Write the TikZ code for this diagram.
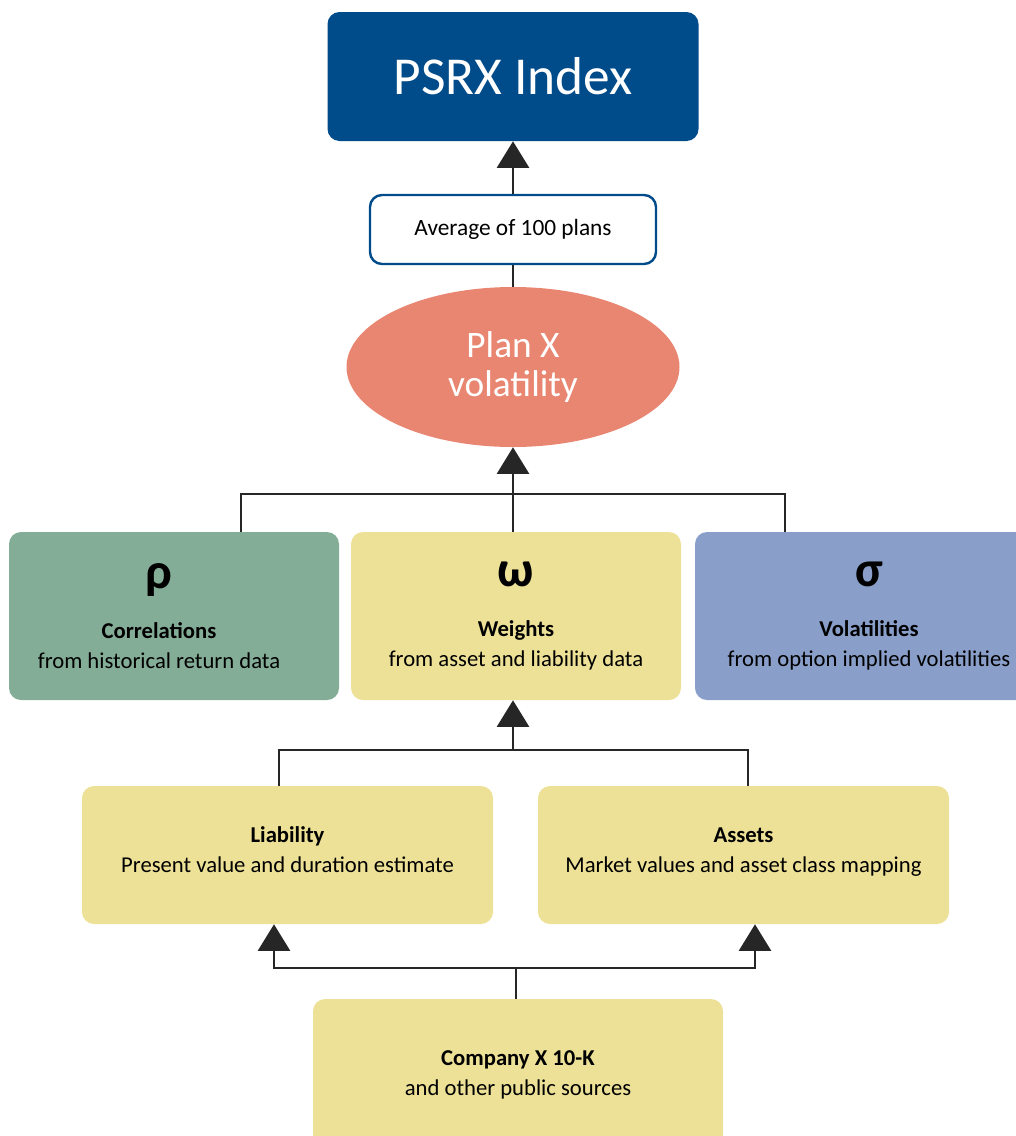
\documentclass[tikz,border=0pt]{standalone}
\usepackage{fontspec}
\setmainfont{Carlito}
\usetikzlibrary{arrows.meta,shapes.geometric}
\definecolor{indexblue}{RGB}{0,76,138}
\definecolor{planred}{RGB}{233,134,113}
\definecolor{corrgreen}{RGB}{132,173,152}
\definecolor{wgtyellow}{RGB}{237,225,151}
\definecolor{volblue}{RGB}{137,159,201}
\newcommand{\greekmark}[1]{{\fontsize{38}{38}\selectfont\bfseries #1}\\[15pt]}

\begin{document}
\begin{tikzpicture}[x=0.75pt,y=0.75pt,yscale=-1,xscale=1,
	card/.style={rounded corners=9pt, inner sep=0pt, align=center, text=black, font=\fontsize{17}{22.5}\selectfont},
	rowcard/.style={card, minimum width=247.5pt, minimum height=126pt},
	lowcard/.style={card, fill=wgtyellow, minimum width=308.25pt, minimum height=103.5pt},
	link/.style={line width=2.2pt, draw=black!85},
	feed/.style={link, -{Triangle[width=24pt,length=20pt]}}
	]
	\useasboundingbox (0,0) rectangle (1016,1136);
	% top of the chain
	\node [card, fill=indexblue, text=white, minimum width=278.25pt, minimum height=96.75pt, font=\fontsize{40}{44}\selectfont] (psrx) at (513,76.5) {PSRX Index};
	\node [card, fill=white, draw=indexblue, line width=1.8pt, minimum width=214.5pt, minimum height=51.75pt, font=\fontsize{17.5}{22}\selectfont] (avg) at (513,229.5) {Average of 100 plans};
	\node [ellipse, fill=planred, text=white, inner sep=0pt, minimum width=249.75pt, minimum height=120pt, align=center, font=\fontsize{28}{29.5}\selectfont] (plan) at (513,367) {Plan X\\volatility};
	% the three inputs
	\node [rowcard, fill=corrgreen] (corr) at (174,616) {};
	\node [card] (corrtext) at (159,616) {\greekmark{ρ}{\bfseries Correlations}\\from historical return data};
	\node [rowcard, fill=wgtyellow] (wgt) at (516,616) {\greekmark{ω}{\bfseries Weights}\\from asset and liability data};
	\node [rowcard, fill=volblue, minimum width=261pt] (vol) at (869,616) {\greekmark{σ}{\bfseries Volatilities}\\from option implied volatilities};
	% sources
	\node [lowcard] (liab) at (287.5,855) {{\bfseries Liability}\\Present value and duration estimate\\[-15pt]};
	\node [lowcard] (assets) at (743.5,855) {{\bfseries Assets}\\Market values and asset class mapping\\[-15pt]};
	\node [lowcard, minimum width=307.5pt, minimum height=114pt] (comp) at (518,1075) {{\bfseries Company X 10-K}\\and other public sources};
	% joints
	\coordinate (jl) at (241,494);
	\coordinate (jr) at (785,494);
	\coordinate (kl) at (279,750);
	\coordinate (kr) at (748,750);
	\coordinate (km) at (513,750);
	\coordinate (bm) at (516,968);
	\coordinate (bl) at (274,968);
	\coordinate (br) at (755,968);
	% connectors
	\draw [feed] (avg.north) -- (psrx.south);
	\draw [link] (plan.north) -- (avg.south);
	\draw [link] (corr.north -| jl) |- (jr) -- (vol.north -| jr);
	\draw [feed] (wgt.north -| plan.south) -- (plan.south);
	\draw [link] (liab.north -| kl) |- (kr) -- (assets.north -| kr);
	\draw [feed] (km) -- (wgt.south -| km);
	\draw [link] (comp.north -| bm) -- (bm);
	\draw [feed] (bm) -| (liab.south -| bl);
	\draw [feed] (bm) -| (assets.south -| br);
\end{tikzpicture}
\end{document}
